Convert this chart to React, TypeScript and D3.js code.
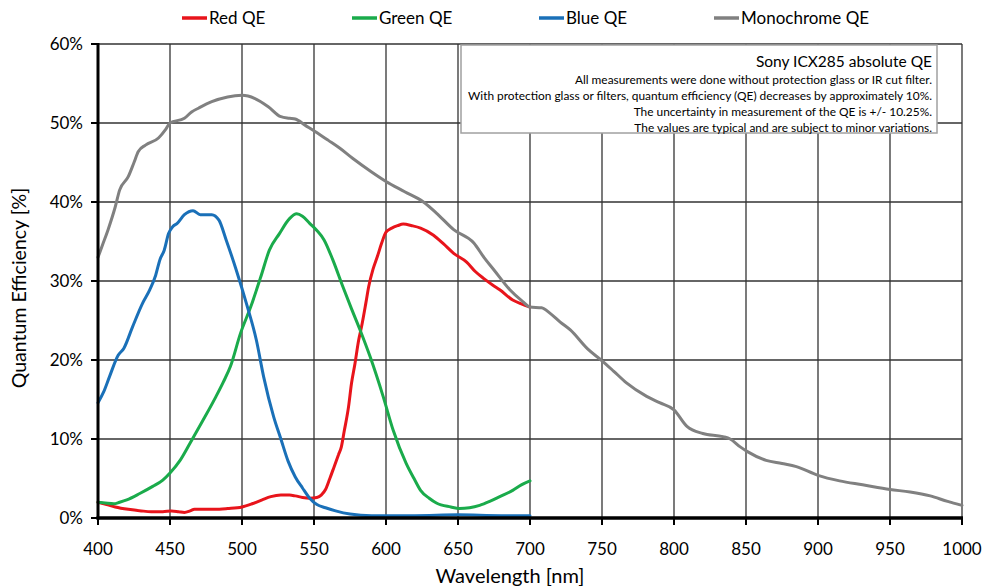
import React from "react";
import * as d3 from "d3";

const W = 984;
const H = 586;

const xTicks = [400, 450, 500, 550, 600, 650, 700, 750, 800, 850, 900, 950, 1000];
const yTicks = [0, 10, 20, 30, 40, 50, 60];

const seriesNames = ["Red QE", "Green QE", "Blue QE", "Monochrome QE"];
const seriesColors = ["#e8141b", "#1aab4b", "#1a70b8", "#808080"];

const redQE: [number, number][] = [
  [400, 2.0], [406, 1.7], [412, 1.4], [421, 1.1], [430, 0.9], [437, 0.8], [445, 0.8], [451, 0.9],
  [456, 0.8], [460, 0.7], [464, 0.9], [467, 1.1], [474, 1.1], [481, 1.1], [490, 1.2], [500, 1.4],
  [507, 1.8], [514, 2.3], [520, 2.7], [527, 2.9], [533, 2.9], [537, 2.8], [542, 2.6], [547, 2.5],
  [552, 2.6], [555, 2.9], [558, 3.6], [561, 5.0], [564, 6.5], [567, 8.0], [569, 9.0], [571, 11.0],
  [574, 14.1], [576, 17.0], [578.5, 19.6], [581, 22.5], [583, 24.2], [586, 27.2], [588, 29.3],
  [591, 31.5], [594, 33.1], [597, 34.8], [600, 36.2], [604, 36.7], [608, 37.0], [612, 37.2],
  [618, 37.0], [624, 36.7], [633, 35.8], [640, 34.7], [647, 33.5], [656, 32.4], [662, 31.2],
  [668, 30.3], [674, 29.5], [679, 28.9], [688, 27.6], [694, 27.1], [700, 26.7],
];

const greenQE: [number, number][] = [
  [400, 2.0], [405, 1.9], [411, 1.8], [415, 2.0], [420, 2.3], [429, 3.1], [438, 4.0], [445, 4.8],
  [450, 5.7], [457, 7.3], [464, 9.5], [473, 12.4], [482, 15.4], [487, 17.2], [492, 19.2],
  [499, 23.4], [506, 26.7], [513, 30.5], [519, 33.9], [526, 36.0], [533, 37.9], [538, 38.5],
  [542, 38.2], [547, 37.3], [552, 36.4], [557, 35.2], [563, 32.7], [570, 29.3], [576, 26.5],
  [582, 23.8], [589, 20.4], [598, 15.4], [605, 11.1], [614, 6.9], [620, 4.8], [624, 3.5],
  [630, 2.5], [635, 1.9], [645, 1.4], [651, 1.2], [658, 1.3], [665, 1.6], [672, 2.1], [679, 2.7],
  [688, 3.5], [694, 4.2], [700, 4.7],
];

const blueQE: [number, number][] = [
  [400, 14.6], [404, 16.0], [408, 17.9], [414, 20.6], [418, 21.5], [424, 24.2], [431, 27.2],
  [436, 28.9], [440, 30.7], [443, 32.7], [446, 33.9], [449, 36.0], [452, 36.9], [455, 37.3],
  [460, 38.4], [466, 38.9], [471, 38.4], [479, 38.4], [484, 37.7], [489, 35.2], [496, 31.4],
  [503, 27.2], [510, 22.5], [515, 17.9], [522, 12.8], [527, 10.0], [532, 7.2], [537, 5.2],
  [542, 3.8], [547, 2.5], [552, 1.7], [558, 1.3], [565, 0.9], [575, 0.5], [590, 0.3], [620, 0.3],
  [650, 0.4], [680, 0.3], [700, 0.3],
];

const monoQE: [number, number][] = [
  [400, 33.0], [403, 34.5], [407, 36.5], [412, 39.4], [415, 41.5], [421, 43.2], [425, 45.0],
  [428, 46.4], [433, 47.2], [442, 48.1], [447, 49.2], [450, 50.0], [460, 50.6], [465, 51.4],
  [470, 51.9], [479, 52.7], [490, 53.3], [500, 53.5], [509, 53.1], [518, 52.1], [527, 50.8],
  [533, 50.6], [537, 50.5], [544, 49.7], [551, 48.9], [560, 47.8], [568, 46.8], [577, 45.5],
  [590, 43.8], [600, 42.6], [613, 41.3], [626, 40.0], [635, 38.6], [647, 36.5], [661, 34.8],
  [668, 33.0], [675, 31.4], [686, 28.9], [695, 27.4], [700, 26.7], [708, 26.6], [714, 25.9],
  [721, 24.8], [728, 23.8], [740, 21.4], [750, 19.9], [758, 18.6], [767, 17.1], [781, 15.4],
  [790, 14.6], [800, 13.7], [809, 11.6], [820, 10.7], [834, 10.3], [839, 10.0], [846, 9.0],
  [851, 8.4], [864, 7.3], [875, 6.9], [885, 6.5], [900, 5.4], [915, 4.7], [931, 4.2], [950, 3.6],
  [964, 3.3], [978, 2.8], [990, 2.1], [1000, 1.6],
];

const seriesData = [redQE, greenQE, blueQE, monoQE];

const noteTitle = "Sony ICX285 absolute QE";
const noteLines = [
  "All measurements were done without protection glass or IR cut filter.",
  "With protection glass or filters, quantum efficiency (QE) decreases by approximately 10%.",
  "The uncertainty in measurement of the QE is +/- 10.25%.",
  "The values are typical and are subject to minor variations.",
];

const legendX = [182, 352, 539, 714];

const FONT = "Lato, 'Open Sans', sans-serif";

export default function App() {
  const x = d3.scaleLinear().domain([400, 1000]).range([98, 962]);
  const y = d3.scaleLinear().domain([0, 60]).range([518, 44]);
  const line = d3
    .line<[number, number]>()
    .x((d) => x(d[0]))
    .y((d) => y(d[1]))
    .curve(d3.curveMonotoneX);

  return (
    <svg
      width={W}
      height={H}
      style={{ position: "absolute", left: 0, top: 0, background: "#fff" }}
      fontFamily={FONT}
    >
      <rect x={0} y={0} width={W} height={H} fill="#fff" />
      {/* grid */}
      {yTicks.filter((t) => t > 0).map((t) => (
        <line key={"gy" + t} x1={x(400)} x2={x(1000)} y1={y(t)} y2={y(t)} stroke="#333" strokeWidth={1.3} />
      ))}
      {xTicks.filter((t) => t > 400).map((t) => (
        <line key={"gx" + t} x1={x(t)} x2={x(t)} y1={y(60)} y2={y(0)} stroke="#333" strokeWidth={1.3} />
      ))}
      {/* note box */}
      <rect x={461} y={45} width={476} height={88} fill="#fff" stroke="#a0a0a0" strokeWidth={1.5} />
      <text x={932} y={67} textAnchor="end" fontSize={15.5} fill="#000">{noteTitle}</text>
      {noteLines.map((s, i) => (
        <text key={i} x={932} y={84 + i * 16} textAnchor="end" fontSize={11.9} fill="#000">{s}</text>
      ))}
      {/* series */}
      {seriesData.map((d, i) => (
        <path key={i} d={line(d) || ""} fill="none" stroke={seriesColors[i]} strokeWidth={3} strokeLinejoin="round" strokeLinecap="round" />
      ))}
      {/* axes */}
      <line x1={x(400)} x2={x(400)} y1={y(60) - 1} y2={y(0) + 1.5} stroke="#000" strokeWidth={3} />
      <line x1={x(400) - 1.5} x2={x(1000) + 1} y1={y(0)} y2={y(0)} stroke="#000" strokeWidth={3.5} />
      {yTicks.map((t) => (
        <g key={"yt" + t}>
          <line x1={x(400) - 7} x2={x(400)} y1={y(t)} y2={y(t)} stroke="#000" strokeWidth={2} />
          <text x={83} y={y(t)} dy="0.36em" textAnchor="end" fontSize={17} fill="#000">{t + "%"}</text>
        </g>
      ))}
      {xTicks.map((t) => (
        <g key={"xt" + t}>
          <line x1={x(t)} x2={x(t)} y1={y(0)} y2={y(0) + 7} stroke="#000" strokeWidth={2} />
          <text x={x(t)} y={555} textAnchor="middle" fontSize={17} fill="#000">{t}</text>
        </g>
      ))}
      <text x={510} y={583} textAnchor="middle" fontSize={20} fill="#000">Wavelength [nm]</text>
      <text transform="translate(26,288) rotate(-90)" textAnchor="middle" fontSize={19.5} fill="#000">Quantum Efficiency [%]</text>
      {/* legend */}
      {seriesNames.map((n, i) => (
        <g key={n}>
          <line x1={legendX[i]} x2={legendX[i] + 25} y1={18} y2={18} stroke={seriesColors[i]} strokeWidth={3.5} />
          <text x={legendX[i] + 27} y={24} fontSize={17} fill="#000">{n}</text>
        </g>
      ))}
    </svg>
  );
}
